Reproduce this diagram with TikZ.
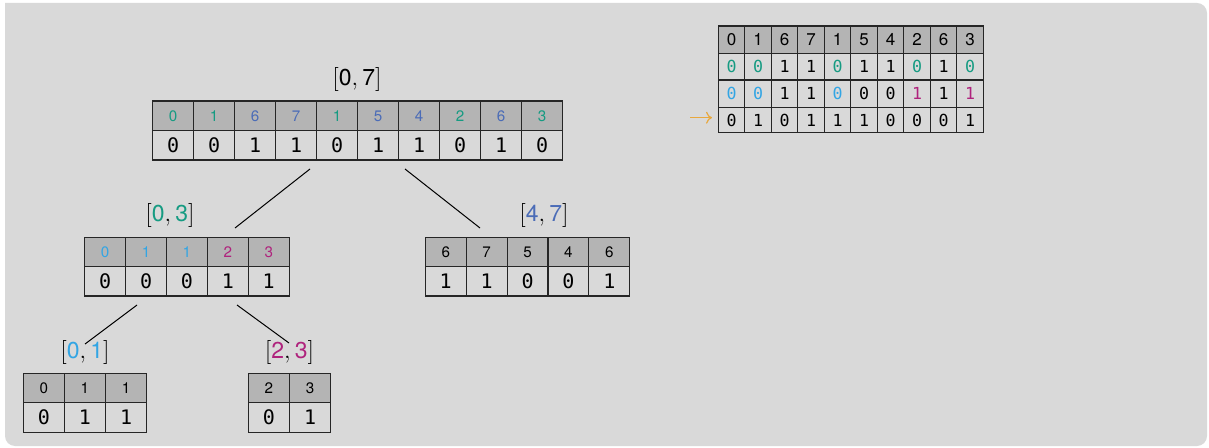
\documentclass[tikz,border=0pt]{standalone}
\usepackage{fontspec}
\setsansfont{TeX Gyre Heros}
\setmonofont{DejaVu Sans Mono}
\usetikzlibrary{arrows.meta}
\definecolor{bgc}{RGB}{217,217,217}
\definecolor{hdc}{RGB}{180,180,180}
\definecolor{tl}{RGB}{22,155,130}
\definecolor{bl}{RGB}{75,108,183}
\definecolor{lb}{RGB}{50,165,228}
\definecolor{mg}{RGB}{175,35,125}
\definecolor{orc}{RGB}{232,168,62}
\tikzset{
  hdrcell/.style={draw=black!85, fill=hdc, line width=0.55pt},
  bodycell/.style={draw=black!85, fill=bgc, line width=0.55pt},
  htxt/.style={font=\sffamily\fontsize{7.6}{9}\selectfont, inner sep=0pt},
  btxt/.style={font=\ttfamily\fontsize{10}{12}\selectfont, inner sep=0pt},
  rhtxt/.style={font=\sffamily\fontsize{8.5}{10}\selectfont, inner sep=0pt},
  rbtxt/.style={font=\ttfamily\fontsize{8.3}{10}\selectfont, inner sep=0pt},
  lbl/.style={font=\fontsize{11.5}{14}\selectfont, inner sep=0pt},
  conn/.style={draw=black, line width=0.5pt},
}
% #1 name, #2 x0, #3 y0, #4 cell width, #5 row height, #6 cell style, #7 text style, #8 items
\newcommand\myrow[8]{%
  \foreach \t [count=\i] in {#8} {
    \draw[#6] ({#2+(\i-1)*#4},#3) rectangle ++(#4,#5);
    \node[#7] (#1-\i) at ({#2+(\i-0.5)*#4},{#3+#5/2}) {\t};
  }%
}
\begin{document}
\begin{tikzpicture}[x=0.5pt,y=-0.5pt]
\useasboundingbox (0,0) rectangle (1209,448);
\fill[bgc] (5,3) [rounded corners=5pt] -- (1207,3) -- (1207,446) -- (5,446) [sharp corners] -- cycle;

% root
\node[lbl] (L07) at (357,80) {$[\mbox{\sffamily 0},\mbox{\sffamily 7}]$};
\myrow{rh}{152.7}{101}{41}{29.7}{hdrcell}{htxt}{{\color{tl}0},{\color{tl}1},{\color{bl}6},{\color{bl}7},{\color{tl}1},{\color{bl}5},{\color{bl}4},{\color{tl}2},{\color{bl}6},{\color{tl}3}}
\myrow{rb}{152.7}{130.7}{41}{29.3}{bodycell}{btxt}{0,0,1,1,0,1,1,0,1,0}

% [0,3]
\node[lbl] (L03) at (170,216) {$[\mbox{\sffamily\color{tl}0},\mbox{\sffamily\color{tl}3}]$};
\myrow{ah}{84.7}{237.3}{40.9}{29.4}{hdrcell}{htxt}{{\color{lb}0},{\color{lb}1},{\color{lb}1},{\color{mg}2},{\color{mg}3}}
\myrow{ab}{84.7}{266.7}{40.9}{29.3}{bodycell}{btxt}{0,0,0,1,1}

% [4,7]
\node[lbl] (L47) at (544,216) {$[\mbox{\sffamily\color{bl}4},\mbox{\sffamily\color{bl}7}]$};
\myrow{bh}{425.3}{237.3}{40.9}{29.4}{hdrcell}{htxt}{6,7,5,4,6}
\myrow{bb}{425.3}{266.7}{40.9}{29.3}{bodycell}{btxt}{1,1,0,0,1}

% [0,1]
\node[lbl] (L01) at (85,352) {$[\mbox{\sffamily\color{lb}0},\mbox{\sffamily\color{lb}1}]$};
\myrow{ch}{23.3}{373.3}{41.1}{29.4}{hdrcell}{htxt}{0,1,1}
\myrow{cb}{23.3}{402.7}{41.1}{29.6}{bodycell}{btxt}{0,1,1}

% [2,3]
\node[lbl] (L23) at (289.5,352) {$[\mbox{\sffamily\color{mg}2},\mbox{\sffamily\color{mg}3}]$};
\myrow{dh}{248.3}{373.3}{41.2}{29.4}{hdrcell}{htxt}{2,3}
\myrow{db}{248.3}{402.7}{41.2}{29.6}{bodycell}{btxt}{0,1}

% connectors
\coordinate (r-a) at (310,169);
\coordinate (a-t) at (235,228);
\coordinate (r-b) at (405,169);
\coordinate (b-t) at (480,228);
\coordinate (a-c) at (137,305);
\coordinate (c-t) at (85,344);
\coordinate (a-d) at (237,305);
\coordinate (d-t) at (289,343);
\draw[conn] (r-a) -- (a-t);
\draw[conn] (r-b) -- (b-t);
\draw[conn] (a-c) -- (c-t);
\draw[conn] (a-d) -- (d-t);

% right table
\myrow{t1}{718.3}{26}{26.5}{27.3}{hdrcell}{rhtxt}{0,1,6,7,1,5,4,2,6,3}
\myrow{t2}{718.3}{53.3}{26.5}{26.7}{bodycell}{rbtxt}{{\color{tl}0},{\color{tl}0},1,1,{\color{tl}0},1,1,{\color{tl}0},1,{\color{tl}0}}
\myrow{t3}{718.3}{80}{26.5}{27.3}{bodycell}{rbtxt}{{\color{lb}0},{\color{lb}0},1,1,{\color{lb}0},0,0,{\color{mg}1},1,{\color{mg}1}}
\myrow{t4}{718.3}{107.3}{26.5}{25.4}{bodycell}{rbtxt}{0,1,0,1,1,1,0,0,0,1}
\coordinate (arS) at (690,117.7);
\coordinate (arE) at (712,117.7);
\draw[orc, line width=0.6pt, -{To[length=3pt,width=6pt]}] (arS) -- (arE);
\end{tikzpicture}
\end{document}
